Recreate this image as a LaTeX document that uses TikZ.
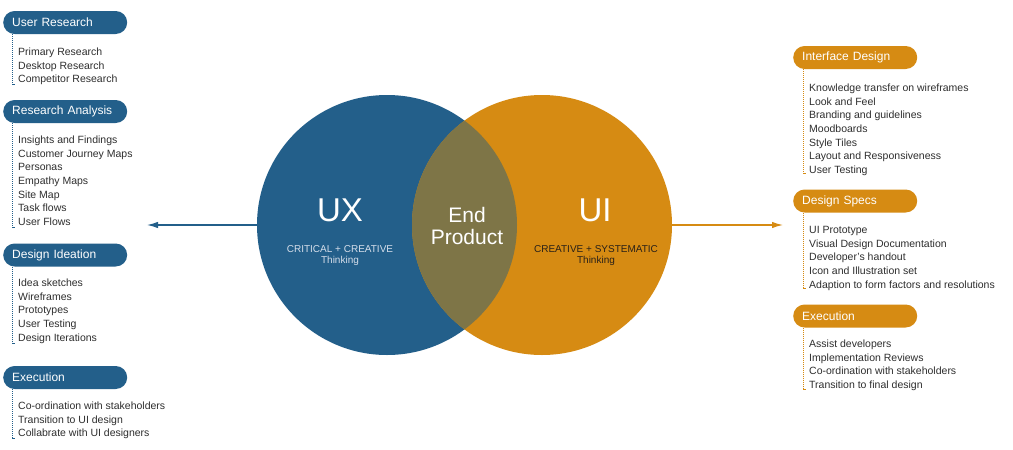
\documentclass[tikz,border=0pt]{standalone}
\usepackage{fontspec}
\setmainfont{Liberation Sans}
\usetikzlibrary{arrows.meta}

\definecolor{uxblue}{HTML}{235F8A}
\definecolor{uiorange}{HTML}{D68B13}
\definecolor{overlap}{HTML}{7E7547}
\definecolor{itemgray}{HTML}{2E2E2E}
\definecolor{uxsubtext}{HTML}{D5DEEA}
\definecolor{uisubtext}{HTML}{2A2118}

\tikzset{
  pill/.style={rounded corners=11.5pt, minimum height=23pt, text width=106pt,
    inner xsep=9pt, inner ysep=0pt, align=left, anchor=west, text=white,
    font=\fontsize{12}{14}\selectfont},
  uxpill/.style={pill, fill=uxblue},
  uipill/.style={pill, fill=uiorange},
  listitem/.style={anchor=base west, inner sep=0pt, text=itemgray,
    font=\fontsize{10.5}{12}\selectfont},
  guide/.style={line width=0.7pt, dash pattern=on 0.7pt off 1.3pt},
  guidetick/.style={line width=0.6pt},
  bubble/.style={circle, minimum size=260pt, inner sep=0pt, draw=none},
  biglabel/.style={text=white, inner sep=0pt, font=\fontsize{33}{33}\selectfont},
  midlabel/.style={text=white, inner sep=0pt, align=center, font=\fontsize{21}{22}\selectfont},
  sublabel/.style={inner sep=0pt, align=center, font=\fontsize{10}{11}\selectfont},
  flow/.style={line width=1.3pt, -{Latex[length=11pt,width=6.5pt]}},
}

% one node per list entry, 13.6pt apart, first entry centred at y0
\newcommand\itemlist[3]{%
  \foreach \t [count=\i] in {#3} {
    \node[listitem] (#1-\i) at (#2) [yshift={-(13.6*(\i-1)+3.7)*1pt}] {\t};
  }%
}

\begin{document}
\begin{tikzpicture}[x=1pt, y=-1pt]
  \fill[white] (0,0) rectangle (1013,450);
  \useasboundingbox (0,0) rectangle (1013,450);

  % ---- the two bubbles and their overlap ----
  \node[bubble, fill=uxblue] (ux) at (387,225) {};
  \node[bubble, fill=uiorange] (ui) at (542,225) {};
  \begin{scope}
    \clip (ux.center) circle (130pt);
    \fill[overlap] (ui.center) circle (130pt);
  \end{scope}

  \node[biglabel] (uxlabel) at (340,210) {UX};
  \node[sublabel, text=uxsubtext] (uxsub) at (340,256) {CRITICAL + CREATIVE\\Thinking};
  \node[midlabel] (endprod) at (467,226) {End\\Product};
  \node[biglabel] (uilabel) at (595,210) {UI};
  \node[sublabel, text=uisubtext] (uisub) at (596,256) {CREATIVE + SYSTEMATIC\\Thinking};

  % ---- outgoing arrows ----
  \coordinate (uxout) at (147,225);
  \coordinate (uiout) at (783,225);
  \draw[flow, uxblue] (ux.west) -- (uxout);
  \draw[flow, uiorange] (ui.east) -- (uiout);

  % ---- UX phases ----
  \node[uxpill] (ur) at (3,22.5) {User Research};
  \itemlist{ur}{18,52}{Primary Research,Desktop Research,Competitor Research}
  \coordinate (ur-end) at (12,84);

  \node[uxpill] (ra) at (3,111.5) {Research Analysis};
  \itemlist{ra}{18,140}{Insights and Findings,Customer Journey Maps,Personas,Empathy Maps,Site Map,Task flows,User Flows}
  \coordinate (ra-end) at (12,227);

  \node[uxpill] (di) at (3,255) {Design Ideation};
  \itemlist{di}{18,283}{Idea sketches,Wireframes,Prototypes,User Testing,Design Iterations}
  \coordinate (di-end) at (12,343);

  \node[uxpill] (ux-ex) at (3,377.5) {Execution};
  \itemlist{uxex}{18,406}{Co-ordination with stakeholders,Transition to UI design,Collabrate with UI designers}
  \coordinate (ux-ex-end) at (12,438);

  \foreach \p in {ur,ra,di,ux-ex} {
    \draw[guide, uxblue] (\p.south west -| \p-end) -- (\p-end);
    \draw[guidetick, uxblue] (\p-end) -- ++(2.5,0);
  }

  % ---- UI phases ----
  \node[uipill] (id) at (793,57.5) {Interface Design};
  \itemlist{id}{809,88}{Knowledge transfer on wireframes,Look and Feel,Branding and guidelines,Moodboards,Style Tiles,Layout and Responsiveness,User Testing}
  \coordinate (id-end) at (803,173);

  \node[uipill] (ds) at (793,201) {Design Specs};
  \itemlist{ds}{809,230}{UI Prototype,Visual Design Documentation,Developer's handout,Icon and Illustration set,Adaption to form factors and resolutions}
  \coordinate (ds-end) at (803,288);

  \node[uipill] (ui-ex) at (793,316) {Execution};
  \itemlist{uiex}{809,344}{Assist developers,Implementation Reviews,Co-ordination with stakeholders,Transition to final design}
  \coordinate (ui-ex-end) at (803,389);

  \foreach \p in {id,ds,ui-ex} {
    \draw[guide, uiorange] (\p.south west -| \p-end) -- (\p-end);
    \draw[guidetick, uiorange] (\p-end) -- ++(2.5,0);
  }
\end{tikzpicture}
\end{document}
